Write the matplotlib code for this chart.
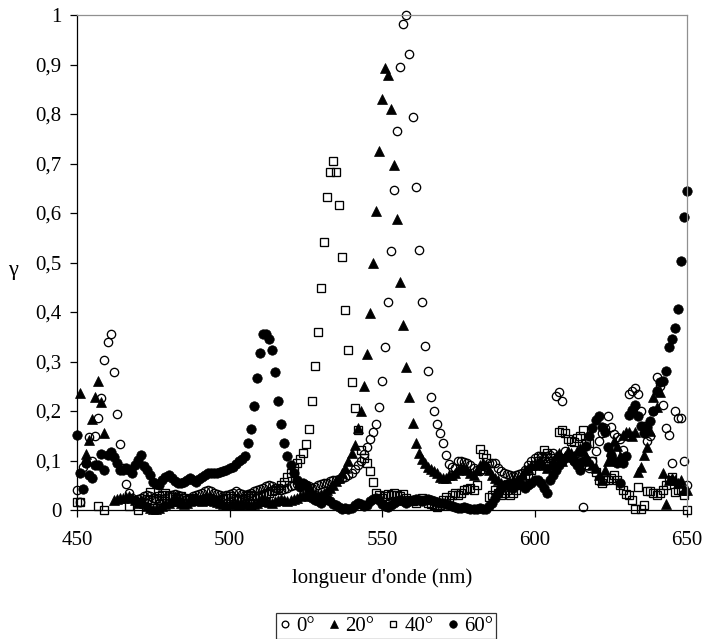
import numpy as np
import matplotlib
matplotlib.use("Agg")
import matplotlib.pyplot as plt
from matplotlib.ticker import FuncFormatter

nan = np.nan

# wavelength grid (nm)
wavelength = np.arange(450, 651)

# gamma for 0 deg (open circles)
gamma_0 = [
    0.040, 0.017, 0.087, 0.095, 0.148, 0.098, 0.150, 0.185, 0.226, 0.303,  # 450
    0.340, 0.355, 0.279, 0.194, 0.133, 0.085, 0.053, 0.035, 0.025, 0.020,  # 460
    0.022, 0.025, 0.028, 0.030, 0.028, 0.025, 0.022, 0.020, 0.022, 0.025,  # 470
    0.028, 0.030, 0.032, 0.030, 0.028, 0.025, 0.022, 0.025, 0.028, 0.030,  # 480
    0.032, 0.035, 0.038, 0.040, 0.038, 0.035, 0.032, 0.030, 0.028, 0.030,  # 490
    0.032, 0.035, 0.038, 0.035, 0.032, 0.030, 0.032, 0.035, 0.038, 0.040,  # 500
    0.042, 0.045, 0.048, 0.050, 0.048, 0.045, 0.042, 0.040, 0.042, 0.045,  # 510
    0.048, 0.050, 0.052, 0.055, 0.052, 0.050, 0.048, 0.045, 0.047, 0.050,  # 520
    0.052, 0.055, 0.055, 0.058, 0.060, 0.060, 0.062, 0.065, 0.067, 0.070,  # 530
    0.075, 0.082, 0.090, 0.098, 0.113, 0.128, 0.143, 0.158, 0.174, 0.208,  # 540
    0.260, 0.330, 0.420, 0.524, 0.646, 0.766, 0.894, 0.981, 1.000, 0.921,  # 550
    0.793, 0.652, 0.525, 0.420, 0.332, 0.281, 0.229, 0.200, 0.173, 0.156,  # 560
    0.135, 0.112, 0.092, 0.086, 0.085, 0.100, 0.098, 0.097, 0.095, 0.090,  # 570
    0.085, 0.080, 0.079, 0.083, 0.087, 0.094, 0.094, 0.094, 0.085, 0.079,  # 580
    0.075, 0.072, 0.070, 0.068, 0.070, 0.072, 0.075, 0.080, 0.090, 0.100,  # 590
    0.105, 0.110, 0.108, 0.105, 0.110, 0.111, 0.115, 0.230, 0.239, 0.221,  # 600
    0.120, 0.110, 0.105, 0.100, 0.100, 0.095, 0.007, 0.090, 0.084, 0.100,  # 610
    0.120, 0.140, 0.155, 0.165, 0.190, 0.168, 0.154, 0.148, 0.143, 0.121,  # 620
    0.150, 0.234, 0.240, 0.246, 0.234, 0.200, 0.170, 0.140, 0.150, 0.200,  # 630
    0.269, 0.250, 0.212, 0.165, 0.152, 0.094, 0.200, 0.185, 0.185, 0.100,  # 640
    0.050,                                                                 # 650
]

# gamma for 20 deg (filled triangles)
gamma_20 = [
    nan,   0.237, nan,   0.114, 0.141, 0.183, 0.229, 0.261, 0.219, 0.155,  # 450
    nan,   nan,   0.020, 0.022, 0.024, 0.025, 0.026, 0.028, 0.025, 0.020,  # 460
    0.015, 0.020, 0.015, 0.008, 0.004, 0.002, 0.003, 0.005, 0.008, 0.012,  # 470
    0.015, 0.018, 0.020, 0.018, 0.015, 0.012, 0.015, 0.018, 0.020, 0.022,  # 480
    0.020, 0.018, 0.020, 0.022, 0.020, 0.018, 0.016, 0.014, 0.012, 0.010,  # 490
    0.012, 0.014, 0.012, 0.010, 0.012, 0.015, 0.012, 0.010, 0.012, 0.015,  # 500
    0.018, 0.020, 0.018, 0.016, 0.015, 0.018, 0.020, 0.022, 0.020, 0.018,  # 510
    0.020, 0.022, 0.025, 0.028, 0.030, 0.030, 0.028, 0.030, 0.032, 0.030,  # 520
    0.032, 0.035, 0.040, 0.045, 0.050, 0.058, 0.065, 0.075, 0.085, 0.100,  # 530
    0.115, 0.131, 0.165, 0.200, 0.251, 0.315, 0.397, 0.500, 0.604, 0.726,  # 540
    0.830, 0.892, 0.879, 0.810, 0.696, 0.588, 0.461, 0.374, 0.288, 0.229,  # 550
    0.175, 0.135, 0.116, 0.104, 0.094, 0.087, 0.083, 0.078, 0.074, 0.067,  # 560
    0.065, 0.065, 0.070, 0.070, 0.075, 0.080, 0.085, 0.085, 0.080, 0.075,  # 570
    0.070, 0.080, 0.090, 0.095, 0.090, 0.080, 0.070, 0.065, 0.060, 0.055,  # 580
    0.050, 0.052, 0.055, 0.060, 0.058, 0.060, 0.070, 0.080, 0.085, 0.090,  # 590
    0.090, 0.095, 0.100, 0.090, 0.085, 0.090, 0.100, 0.110, 0.115, 0.100,  # 600
    0.110, 0.120, 0.115, 0.110, 0.120, 0.125, 0.120, 0.110, 0.100, 0.090,  # 610
    0.085, 0.070, 0.060, 0.080, 0.100, 0.120, 0.140, 0.130, 0.110, 0.151,  # 620
    0.158, 0.158, 0.150, 0.158, 0.077, 0.087, 0.111, 0.128, 0.160, 0.229,  # 630
    0.209, 0.238, 0.075, 0.012, 0.060, 0.065, 0.060, 0.055, 0.060, 0.040,  # 640
    0.040,                                                                 # 650
]

# gamma for 40 deg (open squares)
gamma_40 = [
    0.017, 0.017, nan,   nan,   nan,   nan,   nan,   0.009, nan,   0.000,  # 450
    nan,   nan,   nan,   nan,   nan,   nan,   nan,   0.009, nan,   nan,    # 460
    0.000, 0.017, 0.015, 0.022, 0.037, 0.004, 0.024, 0.028, 0.030, 0.034,  # 470
    0.030, 0.026, 0.022, 0.025, 0.028, 0.024, 0.020, 0.022, 0.025, 0.020,  # 480
    0.018, 0.020, 0.022, 0.025, 0.022, 0.020, 0.018, 0.020, 0.022, 0.025,  # 490
    0.028, 0.025, 0.022, 0.020, 0.022, 0.025, 0.028, 0.030, 0.028, 0.025,  # 500
    0.028, 0.030, 0.032, 0.035, 0.038, 0.040, 0.045, 0.050, 0.057, 0.067,  # 510
    0.075, 0.085, 0.094, 0.104, 0.116, 0.133, 0.164, 0.221, 0.291, 0.359,  # 520
    0.448, 0.542, 0.633, 0.683, 0.706, 0.683, 0.616, 0.512, 0.404, 0.323,  # 530
    0.258, 0.207, 0.162, 0.121, 0.106, 0.094, 0.079, 0.057, 0.034, 0.030,  # 540
    0.025, 0.028, 0.032, 0.030, 0.035, 0.030, 0.028, 0.032, 0.025, 0.020,  # 550
    0.018, 0.015, 0.020, 0.025, 0.020, 0.015, 0.012, 0.010, 0.006, 0.010,  # 560
    0.020, 0.027, 0.020, 0.030, 0.035, 0.030, 0.035, 0.040, 0.042, 0.045,  # 570
    0.040, 0.050, 0.123, 0.113, 0.105, 0.027, 0.030, 0.040, 0.035, 0.030,  # 580
    0.035, 0.040, 0.030, 0.035, 0.040, 0.050, 0.060, 0.065, 0.070, 0.080,  # 590
    0.090, 0.100, 0.110, 0.121, 0.115, 0.105, 0.100, 0.100, 0.158, 0.162,  # 600
    0.155, 0.143, 0.140, 0.138, 0.145, 0.150, 0.162, 0.135, 0.135, 0.100,  # 610
    0.077, 0.060, 0.054, 0.060, 0.060, 0.065, 0.070, 0.060, 0.050, 0.040,  # 620
    0.032, 0.030, 0.020, 0.003, 0.047, 0.003, 0.010, 0.039, 0.039, 0.035,  # 630
    0.030, 0.035, 0.040, 0.050, 0.060, 0.067, 0.037, 0.040, 0.040, 0.030,  # 640
    0.000,                                                                 # 650
]

# gamma for 60 deg (filled circles)
gamma_60 = [
    0.152, 0.074, 0.042, 0.094, 0.071, 0.064, 0.091, 0.091, 0.114, 0.081,  # 450
    0.111, 0.118, 0.108, 0.095, 0.081, 0.081, 0.084, 0.080, 0.074, 0.090,  # 460
    0.101, 0.111, 0.088, 0.080, 0.071, 0.057, 0.053, 0.050, 0.060, 0.067,  # 470
    0.070, 0.064, 0.058, 0.054, 0.055, 0.057, 0.060, 0.064, 0.060, 0.057,  # 480
    0.062, 0.067, 0.070, 0.074, 0.074, 0.074, 0.075, 0.077, 0.079, 0.081,  # 490
    0.084, 0.087, 0.092, 0.098, 0.104, 0.110, 0.135, 0.163, 0.210, 0.267,  # 500
    0.318, 0.355, 0.355, 0.345, 0.323, 0.278, 0.220, 0.174, 0.135, 0.110,  # 510
    0.091, 0.074, 0.060, 0.047, 0.055, 0.050, 0.040, 0.025, 0.020, 0.018,  # 520
    0.015, 0.020, 0.022, 0.018, 0.012, 0.010, 0.006, 0.003, 0.005, 0.002,  # 530
    0.004, 0.010, 0.015, 0.012, 0.008, 0.010, 0.018, 0.022, 0.025, 0.020,  # 540
    0.012, 0.008, 0.006, 0.010, 0.015, 0.018, 0.020, 0.018, 0.015, 0.018,  # 550
    0.020, 0.022, 0.020, 0.018, 0.020, 0.022, 0.020, 0.018, 0.016, 0.015,  # 560
    0.015, 0.012, 0.010, 0.008, 0.006, 0.004, 0.005, 0.006, 0.005, 0.003,  # 570
    0.002, 0.003, 0.004, 0.003, 0.003, 0.008, 0.015, 0.025, 0.035, 0.045,  # 580
    0.050, 0.052, 0.048, 0.045, 0.050, 0.055, 0.050, 0.045, 0.050, 0.055,  # 590
    0.060, 0.060, 0.055, 0.045, 0.035, 0.060, 0.070, 0.080, 0.090, 0.100,  # 600
    0.105, 0.110, 0.110, 0.100, 0.090, 0.080, 0.100, 0.130, 0.150, 0.165,  # 610
    0.182, 0.190, 0.168, 0.158, 0.128, 0.111, 0.100, 0.094, 0.054, 0.094,  # 620
    0.110, 0.192, 0.202, 0.212, 0.190, 0.170, 0.155, 0.168, 0.180, 0.200,  # 630
    0.240, 0.259, 0.260, 0.280, 0.329, 0.345, 0.368, 0.407, 0.504, 0.591,  # 640
    0.645,                                                                 # 650
]

series_labels = ["0°", "20°", "40°", "60°"]
x_ticks = [450, 500, 550, 600, 650]
y_ticks = [0, 0.1, 0.2, 0.3, 0.4, 0.5, 0.6, 0.7, 0.8, 0.9, 1.0]

plt.rcParams['font.family'] = ['Liberation Serif', 'DejaVu Serif']

W, H = 704, 639
fig = plt.figure(figsize=(W / 100, H / 100), dpi=100)
ax = fig.add_axes([77 / W, 1 - 510 / H, 610 / W, 495 / H])

styles = [
    dict(marker='o', ms=6.0, mfc='none', mec='black', mew=0.95),
    dict(marker='^', ms=6.8, mfc='black', mec='black', mew=0.5),
    dict(marker='s', ms=5.6, mfc='none', mec='black', mew=0.95),
    dict(marker='o', ms=6.8, mfc='black', mec='black', mew=0.5),
]
handles = []
for ys, lab, st in zip([gamma_0, gamma_20, gamma_40, gamma_60], series_labels, styles):
    h, = ax.plot(wavelength, ys, ls='none', label=lab, clip_on=False, **st)
    handles.append(h)

ax.set_xlim(450, 650)
ax.set_ylim(0, 1)
ax.set_xticks(x_ticks)
ax.set_yticks(y_ticks)
ax.yaxis.set_major_formatter(FuncFormatter(lambda v, _: ('%g' % round(v, 1)).replace('.', ',')))

for s in ['top', 'right']:
    ax.spines[s].set_color('#909090')
    ax.spines[s].set_linewidth(0.9)
for s in ['left', 'bottom']:
    ax.spines[s].set_color('black')
    ax.spines[s].set_linewidth(0.9)

ax.tick_params(axis='both', direction='out', length=5, width=0.9, labelsize=15, colors='black')
ax.tick_params(axis='x', pad=10)
ax.tick_params(axis='y', pad=6)

fig.text(382 / W, 1 - 578 / H, "longueur d'onde (nm)", ha='center', va='center', fontsize=15)
fig.text(13 / W, 1 - 270 / H, "γ", ha='center', va='center', fontsize=16)

leg = fig.legend(handles, series_labels, loc='center', bbox_to_anchor=(386 / W, 1 - 626 / H),
                 ncol=4, fontsize=15, frameon=True, fancybox=False, edgecolor='black',
                 handlelength=0.6, handletextpad=0.25, columnspacing=0.6, borderpad=0.15,
                 markerscale=0.8, borderaxespad=0)
leg.get_frame().set_linewidth(0.9)

fig.savefig('out.png', dpi=100)
